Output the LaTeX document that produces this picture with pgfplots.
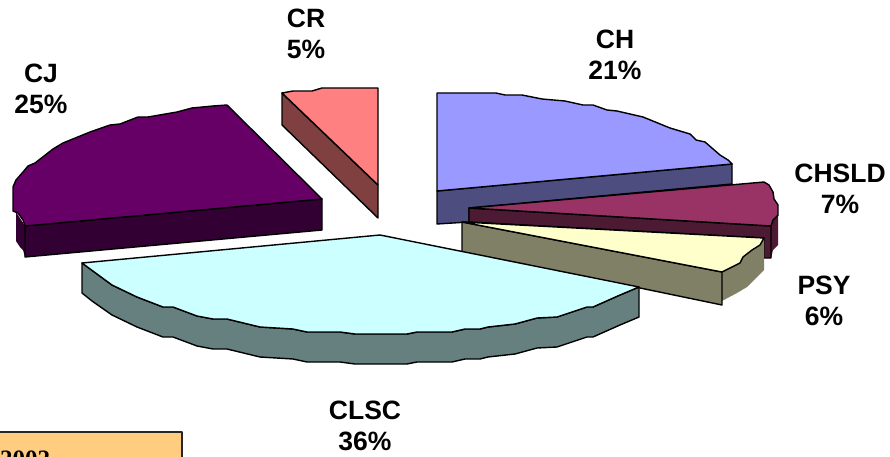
\documentclass[border=0pt]{standalone}
\usepackage{pgfplots}
\pgfplotsset{compat=1.18}
\usepackage{fontspec}
\setmainfont{Liberation Sans}
\newfontfamily\serifb{Liberation Serif}
\definecolor{crT}{HTML}{FF8080}\definecolor{crS}{HTML}{804040}
\definecolor{cjT}{HTML}{660066}\definecolor{cjS}{HTML}{330033}
\definecolor{chT}{HTML}{9999FF}\definecolor{chS}{HTML}{4D4D80}
\definecolor{sldT}{HTML}{993366}\definecolor{sldS}{HTML}{4D1A33}
\definecolor{psyT}{HTML}{FFFFCC}\definecolor{psyS}{HTML}{808066}
\definecolor{clT}{HTML}{CCFFFF}\definecolor{clS}{HTML}{668080}
\definecolor{boxc}{HTML}{FFCC80}
\begin{document}
\begin{tikzpicture}
\path[use as bounding box] (0,0) rectangle (890pt,457pt);
\begin{axis}[
  at={(0,0)}, anchor=south west,
  scale only axis, width=890pt, height=457pt,
  xmin=0, xmax=890, ymin=0, ymax=457, y dir=reverse,
  hide axis, clip=true,
  every axis plot/.append style={line width=1.4pt, line join=round},
]
% box
\addplot[fill=boxc, draw=black!85, line width=1.4pt] coordinates {(-5,432) (182,432) (182,470) (-5,470)} -- cycle;
\node[anchor=base west, inner sep=0pt, font=\fontsize{25}{25}\selectfont\serifb\bfseries] at (axis cs:0,467) {2002};
% CR
\addplot[fill=crS, draw=black] coordinates {(282,93) (378,185) (378,218) (282,125)} -- cycle;
\addplot[fill=crT, draw=black] coordinates {(282,93) (293,91) (312,91) (322,88) (378,88) (378,185)} -- cycle;
% CJ
\addplot[fill=cjS, draw=none] coordinates {(16,212) (25,226) (25,257) (23,250) (20,247) (16,241)} -- cycle;
\addplot[fill=cjS, draw=black] coordinates {(25,226) (322,199) (322,230) (25,257)} -- cycle;
\addplot[fill=cjT, draw=black] coordinates {(227,105) (213,106) (192,108) (177,112) (148,117) (138,117) (120,124) (110,125) (90,132) (63,143) (53,149) (35,163) (28,166) (23,172) (16,180) (13,187) (13,211) (18,213) (23,220) (25,226) (322,199)} -- cycle;
% CH
\addplot[fill=chS, draw=black] coordinates {(437,191) (732,164) (732,184) (469,208) (469,222) (437,224)} -- cycle;
\addplot[fill=chT, draw=black] coordinates {(437,93) (496,93) (505,95) (522,95) (542,99) (565,101) (583,105) (593,105) (607,110) (617,111) (643,117) (670,128) (690,134) (696,140) (705,142) (720,155) (728,160) (732,164) (437,191)} -- cycle;
% CHSLD
\addplot[fill=sldS, draw=none] coordinates {(771,226) (773,220) (778,215) (778,245) (773,250) (771,258)} -- cycle;
\addplot[fill=sldS, draw=black] coordinates {(469,208) (771,226) (771,258) (764,258) (764,238) (469,222)} -- cycle;
\addplot[fill=sldT, draw=black] coordinates {(469,208) (764,182) (769,185) (773,192) (774,199) (778,205) (778,215) (773,220) (771,226)} -- cycle;
% PSY
\addplot[fill=psyS, draw=none] coordinates {(722,272) (764,238) (764,270) (747,287) (737,293) (722,301)} -- cycle;
\addplot[fill=psyS, draw=black] coordinates {(462,222) (722,272) (722,305) (640,288) (462,252)} -- cycle;
\addplot[fill=psyT, draw=black] coordinates {(462,222) (764,238) (760,245) (752,250) (743,257) (740,263) (730,268) (722,272)} -- cycle;
% CLSC
\addplot[fill=clS, draw=black] coordinates {(82,263) (112,285) (137,297) (163,307) (173,307) (197,316) (213,319) (227,319) (260,327) (293,329) (307,332) (340,332) (355,334) (407,334) (417,332) (452,332) (465,329) (480,329) (488,327) (515,324) (537,318) (557,317) (587,307) (593,307) (620,295) (639,287) (639,317) (620,325) (593,337) (587,337) (557,347) (537,348) (515,354) (488,357) (480,359) (465,359) (452,362) (417,362) (407,364) (355,364) (340,362) (307,362) (293,359) (260,357) (227,349) (213,349) (197,346) (173,337) (163,337) (137,327) (112,315) (92,301) (82,293)} -- cycle;
\addplot[fill=clT, draw=black] coordinates {(380,235) (82,263) (112,285) (137,297) (163,307) (173,307) (197,316) (213,319) (227,319) (260,327) (293,329) (307,332) (340,332) (355,334) (407,334) (417,332) (452,332) (465,329) (480,329) (488,327) (515,324) (537,318) (557,317) (587,307) (593,307) (620,295) (639,287)} -- cycle;
% labels
\tikzset{lbl/.style={align=center, inner sep=0pt, font=\fontsize{26.5}{31.5}\selectfont\bfseries}}
\node[lbl] at (axis cs:306,34) {CR\\5\%};
\node[lbl] at (axis cs:41,89) {CJ\\25\%};
\node[lbl] at (axis cs:615,55) {CH\\21\%};
\node[lbl] at (axis cs:840,189) {CHSLD\\7\%};
\node[lbl] at (axis cs:824,301) {PSY\\6\%};
\node[lbl] at (axis cs:365,426) {CLSC\\36\%};
\end{axis}
\end{tikzpicture}
\end{document}
